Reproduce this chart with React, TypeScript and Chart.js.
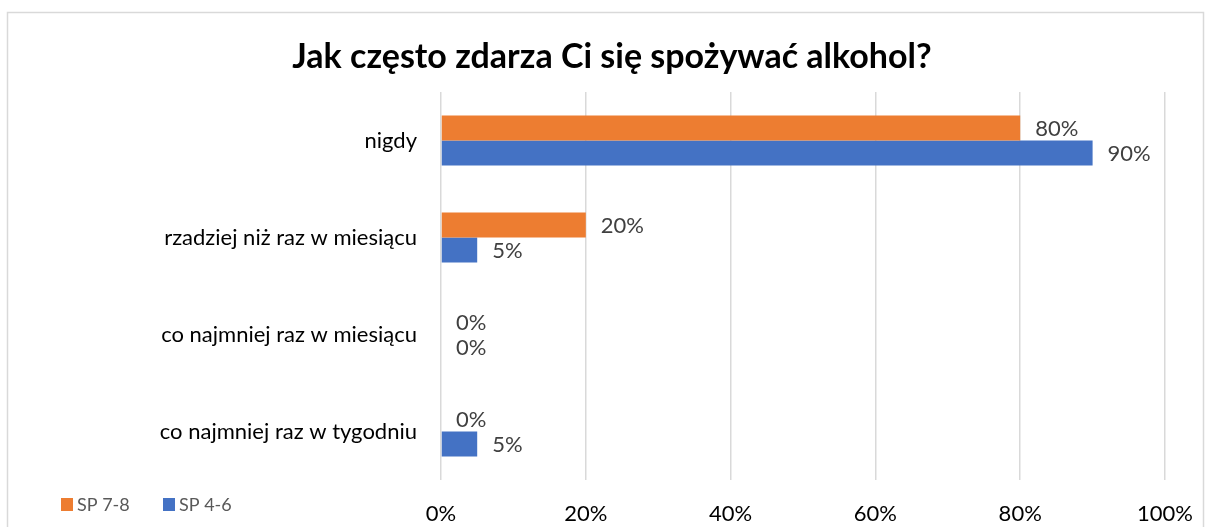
import React, { useEffect, useRef } from "react";
import { Chart, registerables } from "chart.js";

Chart.register(...registerables);

const title = "Jak często zdarza Ci się spożywać alkohol?";
const categories = [
  "nigdy",
  "rzadziej niż raz w miesiącu",
  "co najmniej raz w miesiącu",
  "co najmniej raz w tygodniu",
];
const seriesNames = ["SP 7-8", "SP 4-6"];
const sp78 = [80, 20, 0, 0];
const sp46 = [90, 5, 0, 5];
const xTicks = [0, 20, 40, 60, 80, 100];
const colors = ["#ED7D31", "#4472C4"];

const FONT = "Lato, 'Open Sans', sans-serif";

export default function App() {
  const ref = useRef<HTMLCanvasElement | null>(null);

  useEffect(() => {
    document.body.style.margin = "0";
    const canvas = ref.current;
    if (!canvas) return;

    const decor = {
      id: "decor",
      beforeDraw(chart: any) {
        const ctx = chart.ctx;
        ctx.save();
        ctx.fillStyle = "#ffffff";
        ctx.fillRect(0, 0, chart.width, chart.height);
        ctx.strokeStyle = "#d9d9d9";
        ctx.lineWidth = 1.5;
        ctx.beginPath();
        ctx.moveTo(7.5, chart.height);
        ctx.lineTo(7.5, 12.5);
        ctx.lineTo(1203.5, 12.5);
        ctx.lineTo(1203.5, chart.height);
        ctx.stroke();
        ctx.restore();
      },
      afterDraw(chart: any) {
        const ctx = chart.ctx;
        ctx.save();
        // title
        ctx.fillStyle = "#000000";
        ctx.font = `bold 34px ${FONT}`;
        ctx.textAlign = "center";
        ctx.textBaseline = "middle";
        ctx.fillText(title, 612, 57);
        // data labels
        ctx.font = `22px ${FONT}`;
        ctx.fillStyle = "#404040";
        ctx.textAlign = "left";
        chart.data.datasets.forEach((ds: any, di: number) => {
          const meta = chart.getDatasetMeta(di);
          meta.data.forEach((bar: any, i: number) => {
            const v = ds.data[i];
            ctx.fillText(v + "%", bar.x + 15, bar.y + 1);
          });
        });
        // legend
        ctx.font = `18px ${FONT}`;
        ctx.textBaseline = "middle";
        let lx = 61;
        seriesNames.forEach((n, i) => {
          ctx.fillStyle = colors[i];
          ctx.fillRect(lx, 498, 12, 13);
          ctx.fillStyle = "#595959";
          ctx.fillText(n, lx + 16, 505);
          lx += 102;
        });
        ctx.restore();
      },
    };

    const chart = new Chart(canvas, {
      type: "bar",
      data: {
        labels: categories,
        datasets: [
          {
            label: seriesNames[0],
            data: sp78,
            backgroundColor: colors[0],
            barPercentage: 1,
            categoryPercentage: 0.515,
          },
          {
            label: seriesNames[1],
            data: sp46,
            backgroundColor: colors[1],
            barPercentage: 1,
            categoryPercentage: 0.515,
          },
        ],
      },
      options: {
        indexAxis: "y",
        animation: false,
        responsive: false,
        maintainAspectRatio: false,
        layout: { padding: { left: 0, right: 40, top: 92, bottom: 0 } },
        plugins: {
          legend: { display: false },
          title: { display: false },
          tooltip: { enabled: false },
        },
        scales: {
          x: {
            min: 0,
            max: 100,
            afterBuildTicks(scale: any) {
              scale.ticks = xTicks.map((v) => ({ value: v }));
            },
            afterFit(scale: any) {
              scale.height = 47;
              scale.paddingLeft = 0;
              scale.paddingRight = 0;
            },
            ticks: {
              callback: (v: any) => v + "%",
              color: "#000000",
              font: { family: FONT, size: 22 },
              padding: 21,
            },
            grid: { color: "#d9d9d9", lineWidth: 1.5, drawTicks: false },
            border: { display: false },
          },
          y: {
            afterFit(scale: any) {
              scale.width = 441;
              scale.paddingTop = 0;
              scale.paddingBottom = 0;
            },
            ticks: {
              color: "#000000",
              font: { family: FONT, size: 22 },
              padding: 24,
            },
            grid: { display: false, drawTicks: false },
            border: { display: false },
          },
        },
      },
      plugins: [decor],
    });

    return () => chart.destroy();
  }, []);

  return <canvas ref={ref} width={1205} height={527} style={{ display: "block" }} />;
}
